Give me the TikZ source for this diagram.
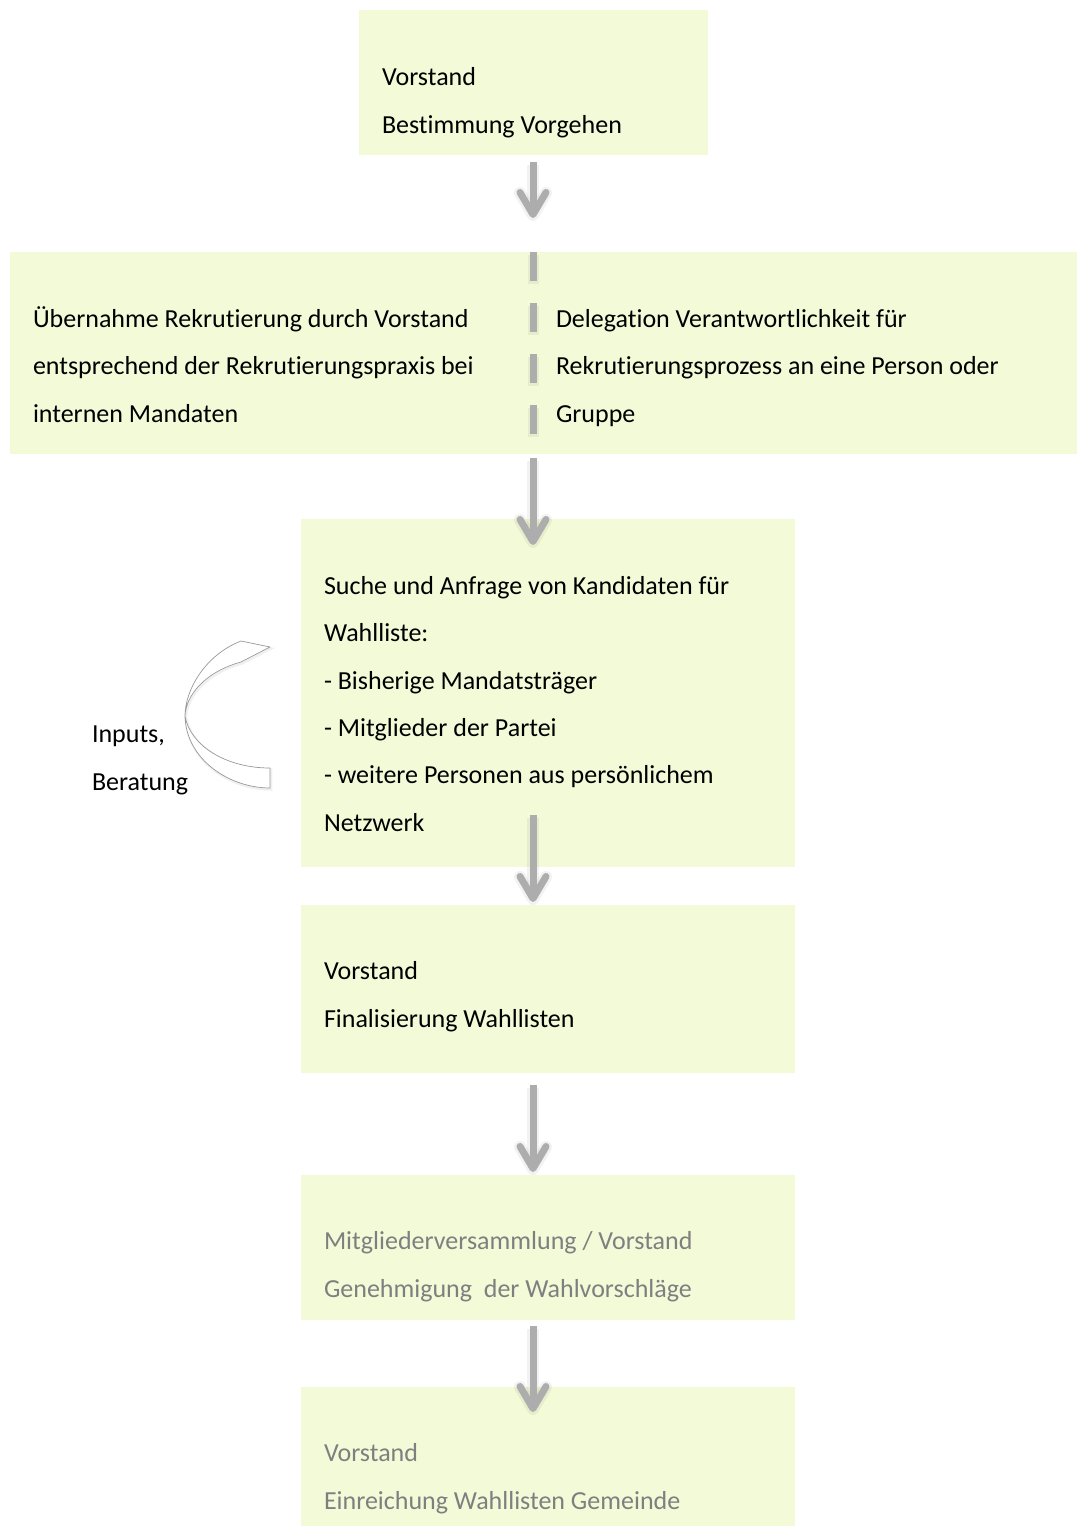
\documentclass[tikz,border=0pt]{standalone}
\usepackage{fontspec}
\setmainfont{Carlito}[Ligatures=NoCommon]
\usetikzlibrary{arrows.meta,calc}

\definecolor{boxfill}{HTML}{F3FAD8}
\definecolor{flowgray}{HTML}{ADADAD}
\definecolor{softtext}{HTML}{7F7F7F}

\tikzset{
  stepbox/.style={rectangle, fill=boxfill, draw=none, anchor=north west,
                  inner sep=0pt, outer sep=0pt},
  % anchored at the baseline of the last line
  steptext/.style={anchor=base west, align=left, inner sep=0pt, outer sep=0pt,
                   font=\fontsize{26}{47.3}\selectfont},
  haze/.style={preaction={draw=black, draw opacity=0.05, line width=#1,
               transform canvas={yshift=-3pt}}},
  flow/.style={draw=flowgray, line width=7pt, haze=12pt,
               -{Straight Barb[length=22pt, width=26pt, round]}},
  splitdash/.style={dash pattern=on 28.5pt off 22.5pt},
  split/.style={draw=flowgray, line width=7pt, splitdash,
                preaction={draw=black, draw opacity=0.05, line width=11pt,
                           splitdash, transform canvas={yshift=-3pt}}},
  ribbon/.style={draw=black!40, line width=0.7pt, fill=white, line join=round,
                 preaction={draw=black, draw opacity=0.06, line width=2.5pt,
                 transform canvas={xshift=1pt, yshift=-1.5pt}}}
}

\begin{document}
\begin{tikzpicture}[x=1pt, y=-1pt]
  \useasboundingbox (0,0) rectangle (1077,1526);

  % process boxes
  \node[stepbox, minimum width=349pt, minimum height=145pt]  (b1) at (359,10) {};
  \node[stepbox, minimum width=1067pt, minimum height=202pt] (b2) at (10,252) {};
  \node[stepbox, minimum width=494pt, minimum height=348pt]  (b3) at (301,519) {};
  \node[stepbox, minimum width=494pt, minimum height=168pt]  (b4) at (301,905) {};
  \node[stepbox, minimum width=494pt, minimum height=145pt]  (b5) at (301,1175) {};
  \node[stepbox, minimum width=494pt, minimum height=139pt]  (b6) at (301,1387) {};

  % axis of the flow
  \coordinate (ax) at (533,0);

  % split inside the second box
  \draw[split] (ax |- b2.north) -- (ax |- b2.south);

  % box texts
  \node[steptext] (t1) at (382,133) {Vorstand\\Bestimmung Vorgehen};
  \node[steptext] (t2a) at (33,422) {Übernahme Rekrutierung durch Vorstand\\entsprechend der Rekrutierungspraxis bei\\internen Mandaten};
  \node[steptext] (t2b) at (556,422) {Delegation Verantwortlichkeit für\\Rekrutierungsprozess an eine Person oder\\Gruppe};
  \node[steptext] (t3) at (324,831) {Suche und Anfrage von Kandidaten für\\Wahlliste:\\- Bisherige Mandatsträger\\- Mitglieder der Partei\\- weitere Personen aus persönlichem\\Netzwerk};
  \node[steptext] (t4) at (324,1027) {Vorstand\\Finalisierung Wahllisten};
  \node[steptext, text=softtext] (t5) at (324,1297) {Mitgliederversammlung / Vorstand\\Genehmigung \ der Wahlvorschläge};
  \node[steptext, text=softtext] (t6) at (324,1509) {Vorstand\\Einreichung Wahllisten Gemeinde};
  \node[steptext] (t7) at (92,790) {Inputs,\\Beratung};

  % curved feedback ribbon
  \draw[ribbon] (270,647) -- (241,641)
        .. controls (205,655) and (185,690) .. (185,716)
        .. controls (186,760) and (230,788) .. (270,788)
        -- (270,768)
        .. controls (225,768) and (190,745) .. (185,716)
        .. controls (186,695) and (205,672) .. (241,662) -- cycle;

  % flow arrows
  \draw[flow, shorten <=7pt, shorten >=34pt]   (ax |- b1.south) -- (ax |- b2.north);
  \draw[flow, shorten <=4pt, shorten >=-26pt]  (ax |- b2.south) -- (ax |- b3.north);
  \draw[flow, shorten <=-52pt, shorten >=3pt]  (ax |- b3.south) -- (ax |- b4.north);
  \draw[flow, shorten <=12pt, shorten >=3pt]   (ax |- b4.south) -- (ax |- b5.north);
  \draw[flow, shorten <=6pt, shorten >=-25pt]  (ax |- b5.south) -- (ax |- b6.north);
\end{tikzpicture}
\end{document}
